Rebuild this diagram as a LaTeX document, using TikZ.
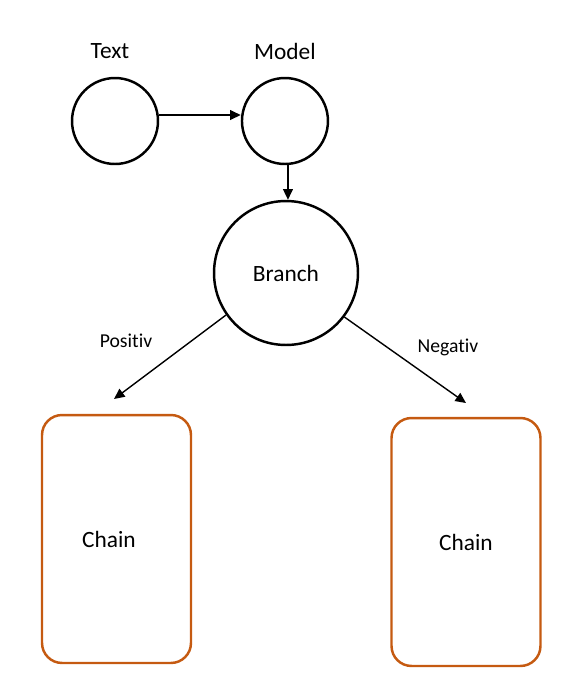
\documentclass[tikz,border=0pt]{standalone}
\usepackage{fontspec}
\setmainfont{Carlito}[Ligatures=NoCommon]
\usepackage{tikz}
\usetikzlibrary{arrows.meta,positioning}
\definecolor{chainorange}{RGB}{197,90,17}
\tikzstyle{arrow} = [line width=0.8pt,->,>={Triangle[length=6pt,width=5.5pt]},color=black]
\tikzstyle{state} = [circle, draw=black, line width=1.4pt, minimum size=1.72cm, inner sep=0pt]
\tikzstyle{chainbox} = [rectangle, rounded corners=0.4cm, minimum width=2.98cm, minimum height=4.96cm, text centered, draw=chainorange, line width=1.4pt, font=\fontsize{13.3}{16}\selectfont]
\tikzstyle{caption} = [font=\fontsize{13.3}{16}\selectfont]
\tikzstyle{edgelabel} = [font=\fontsize{11.2}{13}\selectfont]

\begin{document}
\begin{tikzpicture}[x=0.02cm, y=-0.02cm]
\useasboundingbox (0,0) rectangle (562,684);

\node (text) [state] at (115,121) {};
\node (model) [state, right of=text, node distance=3.4cm] {};
\node (branch) [state, minimum size=2.88cm, caption] at (286,273) {Branch};

\node (textlabel) [caption, above of=text, node distance=1.4cm, xshift=-0.1cm] {Text};
\node (modellabel) [caption, above of=model, node distance=1.4cm] {Model};

\node (poschain) [chainbox, label={[caption, xshift=-0.15cm]center:Chain}] at (116.5,539) {};
\node (negchain) [chainbox] at (466,542) {Chain};

% free ends of the two branch arrows
\coordinate (posend) at (114,399);
\coordinate (negend) at (466,403);

\draw[arrow] ([yshift=0.12cm]text.east) -- ([yshift=0.12cm]model.west);
\draw[arrow] ([xshift=0.06cm]model.south) -- ([xshift=0.06cm]model.south |- branch.north);
\draw[arrow] (branch.215) -- (posend);
\draw[arrow] (branch.323) -- (negend);

\node (poslabel) [edgelabel] at (126,341) {Positiv};
\node (neglabel) [edgelabel] at (448,347) {Negativ};
\end{tikzpicture}
\end{document}
